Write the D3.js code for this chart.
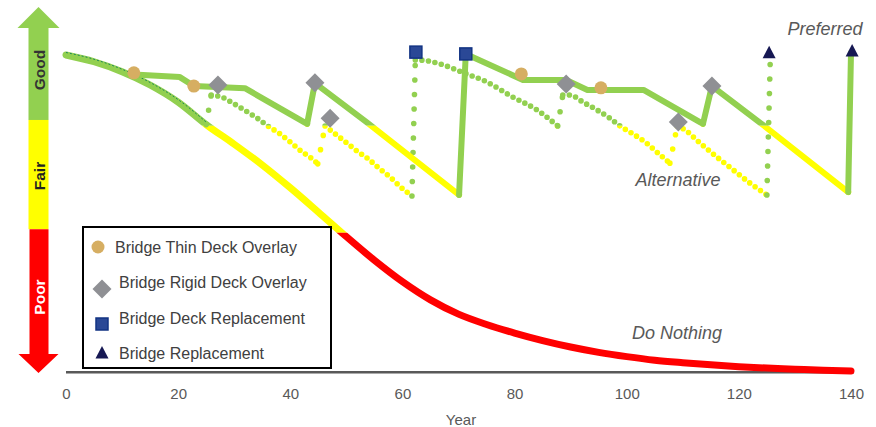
<!DOCTYPE html>
<html>
<head>
<meta charset="utf-8">
<script src="https://d3js.org/d3.v7.min.js"></script>
<style>
  body { margin: 0; background: #fff; }
  svg { display: block; font-family: "Liberation Sans", Arial, sans-serif; }
</style>
</head>
<body>
<svg id="chart" width="876" height="427"></svg>
<script>
// condition index over 140 years
let doNothingYears = [0, 5, 10, 15, 20, 25, 30, 35, 40, 45, 50, 55, 60, 65, 70, 75, 80, 85, 90, 95, 100, 105, 110, 115, 120, 125, 130, 135, 140];
let doNothingCond  = [88.8, 86.9, 84.1, 80.4, 75.6, 69.3, 63.8, 58.0, 51.6, 44.8, 37.9, 31.3, 25.3, 20.2, 16.2, 13.3, 10.9, 8.8, 7.0, 5.5, 4.3, 3.3, 2.6, 2.0, 1.5, 1.1, 0.8, 0.5, 0.3];

let preferredYears = [0, 5, 10, 12.1, 20.3, 22.8, 31.9, 43.0, 44.4, 53.6, 70.1, 71.3, 81.5, 89.2, 93.0, 103.0, 113.6, 115.2, 124.3, 139.5, 140];
let preferredCond  = [88.8, 86.9, 84.1, 83.3, 82.6, 80.1, 79.5, 69.5, 80.9, 70.0, 49.6, 89.1, 81.8, 81.8, 79.0, 79.0, 69.5, 80.1, 69.2, 50.4, 89.4];

let alternativeYears = [0, 5, 10, 15, 20, 25, 25.9, 27.8, 30.0, 32.1, 34.1, 36.0, 38.0, 40.0, 41.9, 43.9, 44.9,
  46.2, 48.0, 49.9, 51.9, 53.9, 55.8, 57.8, 59.7, 61.7,
  62.3, 62.8, 66.7, 70.6, 75.1, 79.7, 84.0, 87.7,
  88.6, 89.9, 92.2, 94.7, 97.0, 98.8, 100.9, 103.3, 105.6, 107.7,
  109.0, 109.9, 113.1, 116.1, 119.0, 122.0, 125.0, 125.6];
let alternativeCond = [88.8, 86.9, 84.1, 80.4, 75.6, 69.3, 77.6, 77.0, 75.1, 73.1, 71.1, 68.9, 66.9, 64.4, 61.9, 59.7, 58.3,
  68.9, 66.7, 64.4, 61.9, 59.7, 57.1, 54.6, 51.8, 49.3,
  87.4, 87.4, 86.3, 84.0, 81.2, 77.0, 73.4, 68.9,
  77.6, 77.6, 75.6, 73.4, 71.1, 68.9, 66.9, 64.4, 61.3, 58.5,
  68.9, 68.3, 64.1, 60.2, 56.6, 52.9, 49.6, 87.4];

// treatments
let thinOverlayYears = [12.1, 22.8, 81.2, 95.4];
let thinOverlayCond  = [83.8, 80.1, 83.5, 79.6];
let rigidOverlayYears = [27.1, 44.4, 47.1, 89.2, 109.2, 115.2];
let rigidOverlayCond  = [80.4, 81.0, 71.1, 80.7, 70.0, 80.1];
let deckReplYears = [62.4, 71.3];
let deckReplCond  = [89.6, 89.1];
let bridgeReplYears = [125.4, 140.2];
let bridgeReplCond  = [89.4, 89.9];

let xTicks = [0, 20, 40, 60, 80, 100, 120, 140];
let bandNames = ["Good", "Fair", "Poor"];
let bandLimits = [70.6, 40];      // arrow band edges
let goodLimit = 69, fairLimit = 39; // line colour change
let legendLabels = ["Bridge Thin Deck Overlay", "Bridge Rigid Deck Overlay", "Bridge Deck Replacement", "Bridge Replacement"];

let green = "#92d050", yellow = "#ffff00", red = "#ff0000";

let svg = d3.select("#chart");
let x = d3.scaleLinear().domain([0, 140]).range([66, 851]);
let y = d3.scaleLinear().domain([0, 100]).range([372, 15]);

let zip = (a, b) => a.map((v, i) => [v, b[i]]);
let bandColor = c => c >= goodLimit ? green : (c >= fairLimit ? yellow : red);

// clip regions for the colour bands
let defs = svg.append("defs");
let clips = [
  {id: "clipGood", y0: 0, y1: y(goodLimit), color: green},
  {id: "clipFair", y0: y(goodLimit), y1: y(fairLimit), color: yellow},
  {id: "clipPoor", y0: y(fairLimit), y1: 427, color: red}
];
clips.forEach(c => {
  defs.append("clipPath").attr("id", c.id)
    .append("rect").attr("x", 0).attr("y", c.y0).attr("width", 876).attr("height", c.y1 - c.y0);
});

// split a series into falling runs and rising jumps
function splitRuns(pts) {
  let runs = [], rises = [], cur = [pts[0]];
  for (let i = 1; i < pts.length; i++) {
    let a = pts[i - 1], b = pts[i];
    if (b[1] > a[1] + 0.01) {
      if (cur.length > 1) runs.push(cur);
      rises.push([a, b]);
      cur = [b];
    } else cur.push(b);
  }
  if (cur.length > 1) runs.push(cur);
  return {runs, rises};
}

let smooth = d3.line().x(d => x(d[0])).y(d => y(d[1])).curve(d3.curveMonotoneX);
let straight = d3.line().x(d => x(d[0])).y(d => y(d[1]));

// ---- arrow on the left
let ax = 38.5;
let g = svg.append("g");
let yTop = y(bandLimits[0]), yMid = y(bandLimits[1]);
g.append("path").attr("fill", green)
  .attr("d", `M${ax},7 L${ax + 21},28 L${ax + 10},28 L${ax + 10},${yTop} L${ax - 10},${yTop} L${ax - 10},28 L${ax - 21},28 Z`);
g.append("rect").attr("x", ax - 10).attr("y", yTop).attr("width", 20).attr("height", yMid - yTop).attr("fill", yellow);
g.append("path").attr("fill", red)
  .attr("d", `M${ax - 9},${yMid} L${ax + 10},${yMid} L${ax + 10},354 L${ax + 20},354 L${ax},373 L${ax - 20},354 L${ax - 9},354 Z`);
let bandCenters = [70, 176, 297];
let bandText = ["#333", "#222", "#fff"];
bandNames.forEach((b, i) => {
  g.append("text").text(b)
    .attr("transform", `translate(${ax + 0.5},${bandCenters[i]}) rotate(-90)`)
    .attr("text-anchor", "middle").attr("dy", "0.36em")
    .attr("font-size", 15.5).attr("font-weight", "bold").attr("fill", bandText[i]);
});

// ---- axis
let axis = svg.append("g").attr("transform", `translate(0,${y(0)})`)
  .call(d3.axisBottom(x).tickValues(xTicks).tickSize(0).tickPadding(16));
axis.select(".domain").attr("stroke", "#222").attr("stroke-width", 1.6).attr("d", `M${x(0)},0H${x(140) + 3}`);
axis.selectAll("text").attr("font-size", 15).attr("fill", "#595959").attr("font-family", "Liberation Sans, Arial, sans-serif");
svg.append("line").attr("x1", x(0)).attr("x2", x(140) + 3).attr("y1", y(0) + 1.5).attr("y2", y(0) + 1.5)
  .attr("stroke", "#aaa").attr("stroke-width", 1);
svg.append("text").text("Year").attr("x", 461).attr("y", 420).attr("dy", "0.36em")
  .attr("text-anchor", "middle").attr("font-size", 15).attr("fill", "#595959");

// ---- do nothing
let dn = zip(doNothingYears, doNothingCond);
clips.forEach(c => {
  svg.append("path").attr("d", smooth(dn)).attr("fill", "none")
    .attr("stroke", c.color).attr("stroke-width", 7).attr("stroke-linecap", "round")
    .attr("clip-path", `url(#${c.id})`);
});

// ---- alternative (dotted)
let alt = splitRuns(zip(alternativeYears, alternativeCond));
let altG = svg.append("g");
alt.runs.forEach(r => {
  clips.forEach(c => {
    altG.append("path").attr("d", smooth(r)).attr("fill", "none")
      .attr("stroke", c.color).attr("stroke-width", 5.6).attr("stroke-linecap", "round")
      .attr("stroke-dasharray", "0,6.6").attr("clip-path", `url(#${c.id})`);
  });
});
alt.rises.forEach(s => {
  altG.append("path").attr("d", straight(s)).attr("fill", "none")
    .attr("stroke", bandColor(s[1][1])).attr("stroke-width", 5.6).attr("stroke-linecap", "round")
    .attr("stroke-dasharray", "0,14.5");
});

// thin dashed trace along the shared early part
let early = dn.filter(d => d[0] <= 25);
svg.append("path").attr("d", smooth(early)).attr("fill", "none")
  .attr("transform", "translate(0,-2.5)")
  .attr("stroke", "#1f8a5a").attr("stroke-width", 1).attr("stroke-dasharray", "2,2");

// ---- preferred (solid)
let pref = splitRuns(zip(preferredYears, preferredCond));
let prefG = svg.append("g");
pref.runs.forEach(r => {
  clips.forEach(c => {
    prefG.append("path").attr("d", straight(r.slice(r[0][0] === 0 ? 3 : 0))).attr("fill", "none")
      .attr("stroke", c.color).attr("stroke-width", 6).attr("stroke-linecap", "round").attr("stroke-linejoin", "round")
      .attr("clip-path", `url(#${c.id})`);
  });
});
pref.rises.forEach(s => {
  prefG.append("path").attr("d", straight(s)).attr("fill", "none")
    .attr("stroke", bandColor(s[1][1])).attr("stroke-width", 6).attr("stroke-linecap", "round");
});

// ---- treatment markers
function circleMark(sel, cx, cy) {
  sel.append("circle").attr("cx", cx).attr("cy", cy).attr("r", 6.5).attr("fill", "#d6ae62");
}
function diamondMark(sel, cx, cy) {
  sel.append("path").attr("d", `M${cx},${cy - 9.5}L${cx + 9.5},${cy}L${cx},${cy + 9.5}L${cx - 9.5},${cy}Z`).attr("fill", "#8f9094");
}
function squareMark(sel, cx, cy) {
  sel.append("rect").attr("x", cx - 6).attr("y", cy - 6).attr("width", 12).attr("height", 12)
    .attr("fill", "#2a4896").attr("stroke", "#123383").attr("stroke-width", 1.5);
}
function triMark(sel, cx, cy) {
  sel.append("path").attr("d", `M${cx},${cy - 7}L${cx + 6.5},${cy + 5.5}L${cx - 6.5},${cy + 5.5}Z`).attr("fill", "#161853");
}
let mk = svg.append("g");
zip(thinOverlayYears, thinOverlayCond).forEach(d => circleMark(mk, x(d[0]), y(d[1])));
zip(rigidOverlayYears, rigidOverlayCond).forEach(d => diamondMark(mk, x(d[0]), y(d[1])));
zip(deckReplYears, deckReplCond).forEach(d => squareMark(mk, x(d[0]), y(d[1])));
zip(bridgeReplYears, bridgeReplCond).forEach(d => triMark(mk, x(d[0]), y(d[1])));

// ---- series labels
let lab = [["Preferred", 825, 29], ["Alternative", 678, 180], ["Do Nothing", 677, 333]];
lab.forEach(l => {
  svg.append("text").text(l[0]).attr("x", l[1]).attr("y", l[2]).attr("dy", "0.36em")
    .attr("text-anchor", "middle").attr("font-size", 18).attr("font-style", "italic").attr("fill", "#595959");
});

// ---- legend
let lg = svg.append("g");
lg.append("rect").attr("x", 83).attr("y", 227).attr("width", 248).attr("height", 141)
  .attr("fill", "#fff").attr("stroke", "#000").attr("stroke-width", 2);
let legMarks = [circleMark, diamondMark, squareMark, triMark];
let legSym = [[98, 247], [102, 289], [102, 324], [102, 353]];
let legTxt = [[115, 247], [119, 282], [119, 318], [119, 353]];
legendLabels.forEach((t, i) => {
  legMarks[i](lg, legSym[i][0], legSym[i][1]);
  lg.append("text").text(t).attr("x", legTxt[i][0]).attr("y", legTxt[i][1]).attr("dy", "0.36em")
    .attr("font-size", 16).attr("fill", "#404040");
});
</script>
</body>
</html>
